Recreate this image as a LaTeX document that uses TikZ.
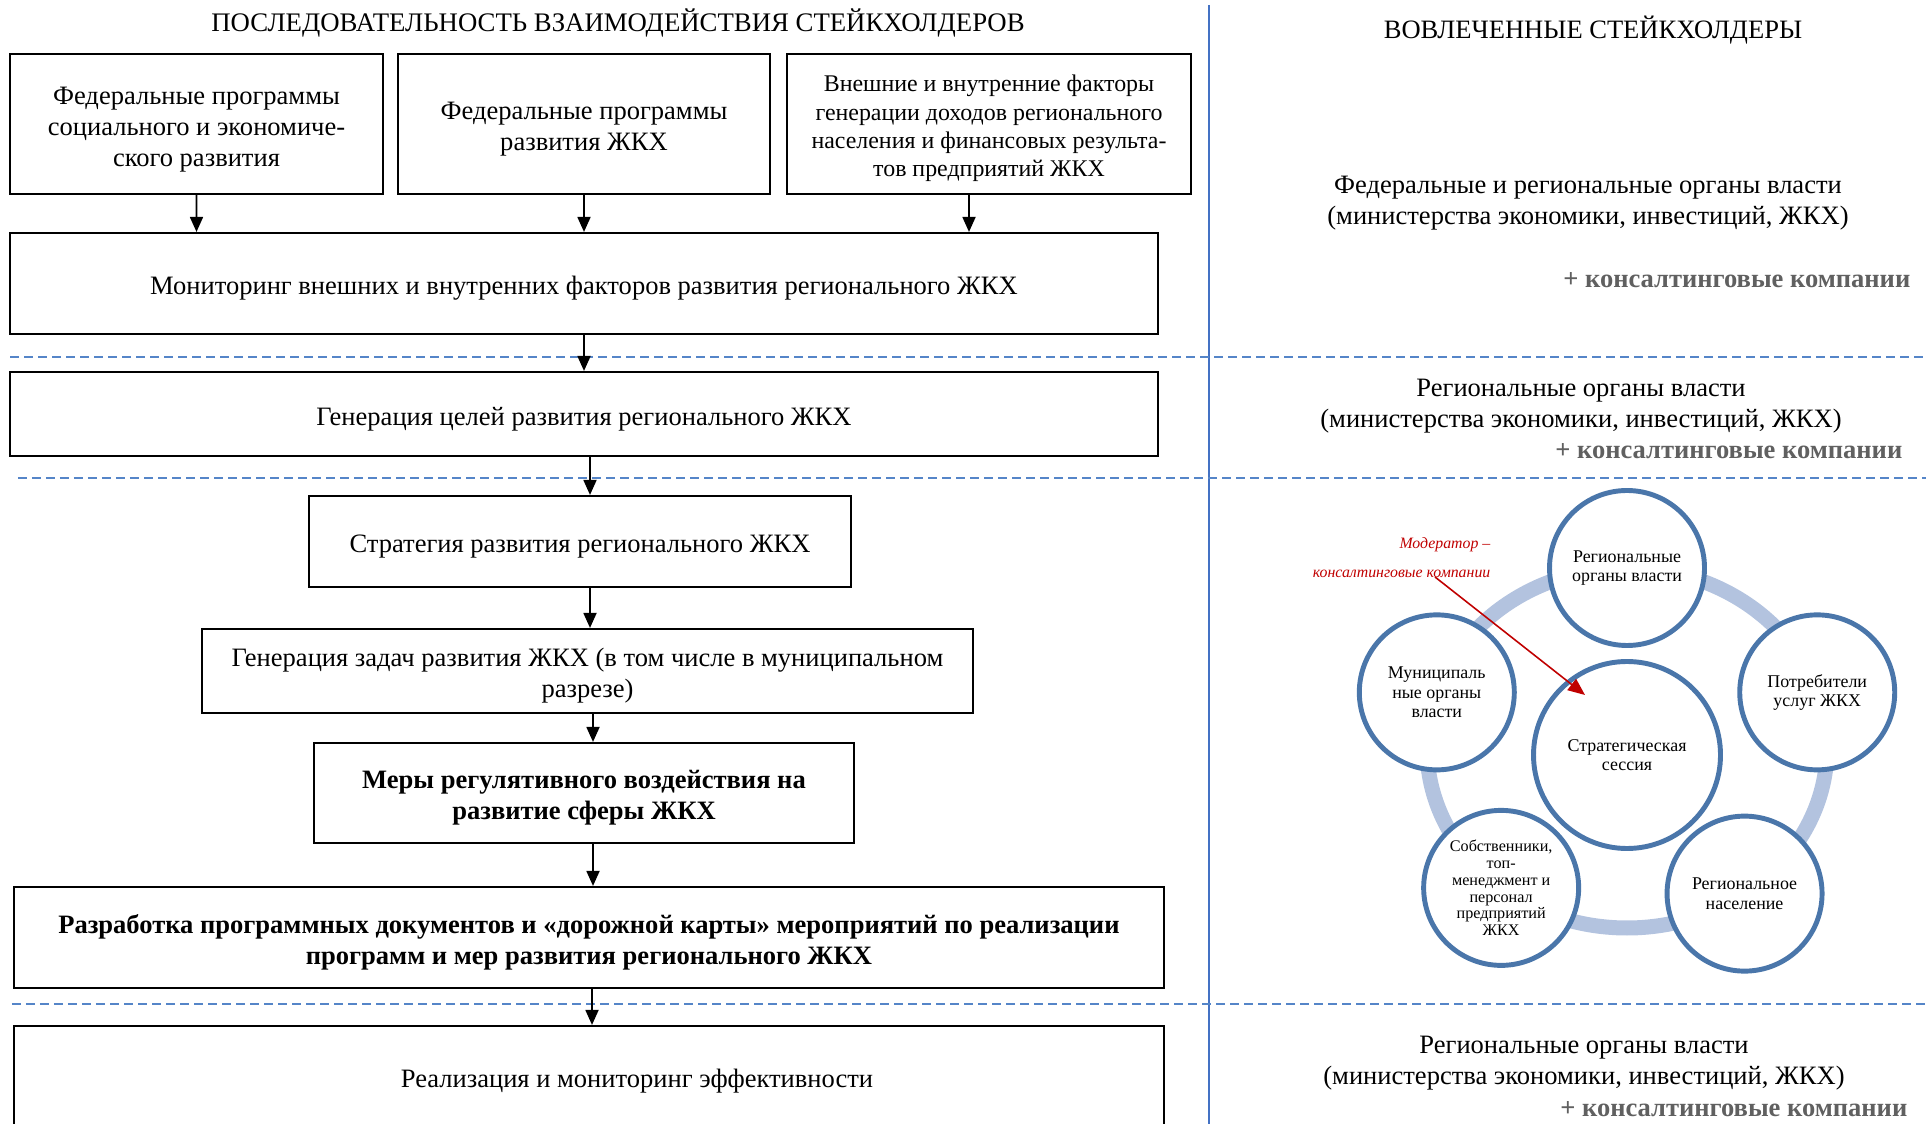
\documentclass[tikz,border=0pt]{standalone}
\usepackage{fontspec}
\setmainfont{Liberation Serif}
\usetikzlibrary{arrows.meta}

\definecolor{kontur}{HTML}{4A76AA}
\definecolor{kolco}{HTML}{B3C3DF}
\definecolor{shtrih}{HTML}{5585C8}
\definecolor{osj}{HTML}{4472C4}
\definecolor{moder}{HTML}{C00000}
\definecolor{seryj}{HTML}{606060}

% strut for the first line of box texts
\newcommand{\verh}{\rule{0pt}{1.06em}}

\tikzset{
  blok/.style={draw, rectangle, line width=0.6pt, align=center, inner sep=0pt,
    font=\fontsize{7.55}{8.8}\selectfont},
  strelka/.style={-{Triangle[length=0.15cm,width=0.13cm]}, line width=0.5pt},
  razdel/.style={draw=shtrih, line width=0.7pt, dash pattern=on 0.09cm off 0.05cm},
  krug/.style={circle, draw=kontur, line width=1.4pt, fill=white, align=center,
    inner sep=0pt, minimum size=1.55cm, font=\fontsize{5.1}{5.5}\selectfont},
  tekst/.style={align=center, inner sep=0pt, font=\fontsize{7.55}{8.8}\selectfont},
  plus/.style={anchor=east, inner sep=0pt, text=seryj,
    font=\fontsize{7.55}{8.8}\selectfont\bfseries}
}

\begin{document}
\begin{tikzpicture}
  \useasboundingbox (0,0) rectangle (19.26,-11.24);

  % Headers
  \node[tekst, font=\fontsize{7.62}{8.8}\selectfont] (zagl) at (6.18,-0.23) {ПОСЛЕДОВАТЕЛЬНОСТЬ ВЗАИМОДЕЙСТВИЯ СТЕЙКХОЛДЕРОВ};
  \node[tekst] (vovl) at (15.93,-0.30) {ВОВЛЕЧЕННЫЕ СТЕЙКХОЛДЕРЫ};

  % Separators
  \draw[osj, line width=0.5pt] (12.09,-0.05) -- (12.09,-11.24);
  \draw[razdel] (0.10,-3.57) -- (19.26,-3.57);
  \draw[razdel] (0.18,-4.78) -- (19.26,-4.78);
  \draw[razdel] (0.12,-10.04) -- (19.26,-10.04);

  % Sequence boxes
  \node[blok, minimum width=3.73cm, minimum height=1.40cm] (fedsoc) at (1.965,-1.24)
    {\verh Федеральные программы\\социального и экономиче-\\ского развития};
  \node[blok, minimum width=3.72cm, minimum height=1.40cm] (fedzhkh) at (5.84,-1.24)
    {\verh Федеральные программы\\развития ЖКХ};
  \node[blok, minimum width=4.04cm, minimum height=1.40cm, font=\fontsize{6.8}{8}\selectfont] (faktory) at (9.89,-1.24)
    {\verh Внешние и внутренние факторы\\генерации доходов регионального\\населения и финансовых результа-\\тов предприятий ЖКХ};
  \node[blok, minimum width=11.48cm, minimum height=1.01cm] (monit) at (5.84,-2.835)
    {\verh Мониторинг внешних и внутренних факторов развития регионального ЖКХ};
  \node[blok, minimum width=11.48cm, minimum height=0.84cm] (celi) at (5.84,-4.14)
    {\verh Генерация целей развития регионального ЖКХ};
  \node[blok, minimum width=5.42cm, minimum height=0.91cm] (strat) at (5.80,-5.415)
    {\verh Стратегия развития регионального ЖКХ};
  \node[blok, minimum width=7.71cm, minimum height=0.84cm] (zadachi) at (5.875,-6.71)
    {\verh Генерация задач развития ЖКХ (в том числе в муниципальном\\разрезе)};
  \node[blok, minimum width=5.40cm, minimum height=1.00cm, font=\fontsize{7.55}{8.8}\selectfont\bfseries] (mery) at (5.84,-7.93)
    {\verh Меры регулятивного воздействия на\\развитие сферы ЖКХ};
  \node[blok, minimum width=11.50cm, minimum height=1.01cm, font=\fontsize{7.55}{8.8}\selectfont\bfseries] (plan) at (5.89,-9.375)
    {\verh Разработка программных документов и «дорожной карты» мероприятий по реализации\\программ и мер развития регионального ЖКХ};
  \node[blok, minimum width=11.50cm, minimum height=1.14cm] (realiz) at (5.89,-10.83) {};
  \node[tekst] (realiztxt) at (6.37,-10.81) {Реализация и мониторинг эффективности};

  % Arrows
  \draw[strelka] (fedsoc.south) -- ([xshift=-3.875cm]monit.north);
  \draw[strelka] (fedzhkh.south) -- (monit.north);
  \draw[strelka] ([xshift=-0.20cm]faktory.south) -- ([xshift=3.85cm]monit.north);
  \draw[strelka] (monit.south) -- (celi.north);
  \draw[strelka] ([xshift=0.06cm]celi.south) -- ([xshift=0.10cm]strat.north);
  \draw[strelka] ([xshift=0.10cm]strat.south) -- ([xshift=0.025cm]zadachi.north);
  \draw[strelka] ([xshift=0.055cm]zadachi.south) -- ([xshift=0.09cm]mery.north);
  \draw[strelka] ([xshift=0.09cm]mery.south) -- ([xshift=0.04cm]plan.north);
  \draw[strelka] ([xshift=0.03cm]plan.south) -- ([xshift=0.03cm]realiz.north);

  % Stakeholders
  \node[tekst] (fedorg) at (15.88,-2.03)
    {Федеральные и региональные органы власти\\(министерства экономики, инвестиций, ЖКХ)};
  \node[plus] (plus1) at (19.11,-2.80) {+ консалтинговые компании};
  \node[tekst] (regorg1) at (15.81,-4.06)
    {Региональные органы власти\\(министерства экономики, инвестиций, ЖКХ)};
  \node[plus] (plus2) at (19.03,-4.51) {+ консалтинговые компании};
  \node[tekst] (regorg3) at (15.84,-10.63)
    {Региональные органы власти\\(министерства экономики, инвестиций, ЖКХ)};
  \node[plus] (plus3) at (19.08,-11.09) {+ консалтинговые компании};

  % Strategic session cycle
  \begin{scope}[shift={(16.27,-7.48)}]
    \draw[kolco, line width=0.15cm] (0,0) ellipse [x radius=2.0, y radius=1.8];
    \node[krug] (regorg) at (90:2.0 and 1.8) {Региональные\\органы власти};
    \node[krug] (potr) at (18:2.0 and 1.8) {Потребители\\услуг ЖКХ};
    \node[krug] (nasel) at (-54:2.0 and 1.8) {Региональное\\население};
    \node[krug, font=\fontsize{4.6}{4.75}\selectfont] (sobstv) at (231:2.0 and 1.8)
      {Собственники,\\топ-\\менеджмент и\\персонал\\предприятий\\ЖКХ};
    \node[krug] (munic) at (162:2.0 and 1.8) {Муниципаль\\ные органы\\власти};
    \node[krug, minimum size=1.87cm] (sess) at (0,-0.07) {Стратегическая\\сессия};
  \end{scope}

  % Moderator
  \node[anchor=east, align=right, inner sep=0pt, text=moder,
    font=\fontsize{4.5}{8.2}\selectfont\itshape] (moder) at (14.91,-5.575)
    {Модератор –\\консалтинговые компании};
  \coordinate (modstart) at (14.35,-5.77);
  \coordinate (modend) at (15.85,-6.95);
  \draw[moder, line width=0.45pt, -{Triangle[length=0.17cm,width=0.14cm]}] (modstart) -- (modend);
\end{tikzpicture}
\end{document}
